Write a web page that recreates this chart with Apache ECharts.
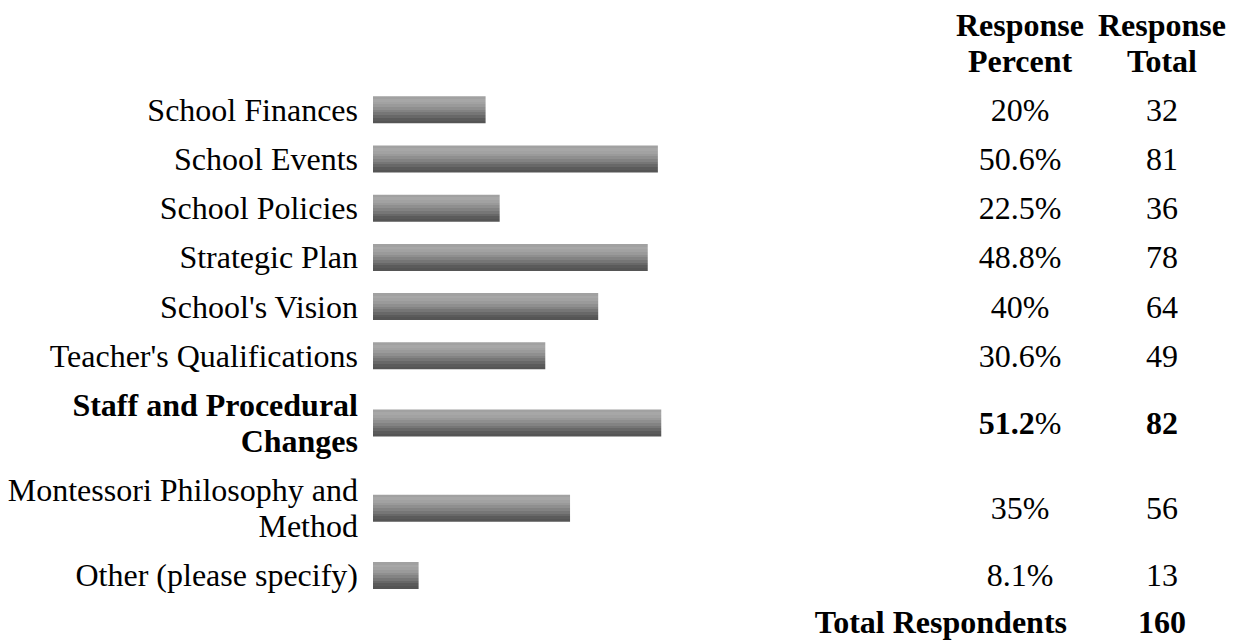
<!DOCTYPE html>
<html><head><meta charset="utf-8">
<script src="https://cdn.jsdelivr.net/npm/echarts@6/dist/echarts.min.js"></script>
<style>html,body{margin:0;padding:0;background:#fff;overflow:hidden}#chart{width:1240px;height:641px}</style>
</head><body><div id="chart"></div>
<script>
// ---- data ----
const categories = [
  'School Finances',
  'School Events',
  'School Policies',
  'Strategic Plan',
  "School's Vision",
  "Teacher's Qualifications",
  'Staff and Procedural\nChanges',
  'Montessori Philosophy and\nMethod',
  'Other (please specify)'
];
const responsePercent = [20, 50.6, 22.5, 48.8, 40, 30.6, 51.2, 35, 8.1];
const responseTotal = [32, 81, 36, 78, 64, 49, 82, 56, 13];
const boldRows = [false, false, false, false, false, false, true, false, false];
const headerPercent = 'Response\nPercent';
const headerTotal = 'Response\nTotal';
const totalLabel = 'Total Respondents';
const totalRespondents = 160;

// ---- layout / style ----
const FONT = '"Liberation Serif", "Times New Roman", serif';
const FS = 32, LINE_H = 36, ROW_PAD = 13.2, BAR_H = 27;
const CHART_H = 641;
const GRID_LEFT = 373, GRID_W = 563;
const COL_PCT = 1020, COL_TOT = 1162;

function lines(s) { return s.split('\n').length; }
function rowH(n) { return ROW_PAD + LINE_H * n; }

// row centres in layout units (1 unit = 1 px), derived from label line counts
const headerH = rowH(2);
let acc = headerH;
const rowCenters = categories.map(c => { const h = rowH(lines(c)); const m = acc + h / 2; acc += h; return m; });
const totalCenter = acc + rowH(1) / 2 - 3;

const bandColors = ['#a1a1a1','#a7a7a7','#a2a2a2','#9a9a9a','#8f8f8f','#838383','#767676','#686868','#5b5b5b','#555555'];
const stops = [];
bandColors.forEach((c, k) => {
  stops.push({ offset: k / bandColors.length, color: c });
  stops.push({ offset: (k + 1) / bandColors.length - 0.0001, color: c });
});

const chart = echarts.init(document.getElementById('chart'), null, { renderer: 'svg' });

const data = categories.map((c, i) => [responsePercent[i], rowCenters[i], i]);

function txt(text, x, y, align, bold, lh) {
  return { type: 'text', style: { text, x, y, align, verticalAlign: 'middle',
    fontSize: FS, fontFamily: FONT, fontWeight: bold ? 'bold' : 'normal', lineHeight: lh || LINE_H, fill: '#000' } };
}

chart.setOption({
  animation: false,
  backgroundColor: '#fff',
  grid: { left: GRID_LEFT, top: 0, width: GRID_W, height: CHART_H },
  xAxis: { type: 'value', min: 0, max: 100, show: false },
  yAxis: { type: 'value', min: 0, max: CHART_H, inverse: true, show: false },
  series: [{
    type: 'custom',
    data,
    renderItem(params, api) {
      const i = api.value(2);
      const s = api.coord([0, api.value(1)]);
      const e = api.coord([api.value(0), api.value(1)]);
      const h = api.size([0, BAR_H])[1];
      const bold = boldRows[i];
      return { type: 'group', children: [
        { type: 'rect', shape: { x: s[0], y: s[1] - h / 2, width: e[0] - s[0], height: h },
          style: { fill: new echarts.graphic.LinearGradient(0, 0, 0, 1, stops) } },
        txt(categories[i], s[0] - 15, s[1], 'right', bold),
        { type: 'text', style: { x: COL_PCT, y: s[1], align: 'center', verticalAlign: 'middle',
          text: '{n|' + responsePercent[i] + '}{p|%}',
          rich: { n: { fontSize: FS, fontFamily: FONT, fontWeight: bold ? 'bold' : 'normal', fill: '#000' },
                  p: { fontSize: FS, fontFamily: FONT, fontWeight: 'normal', fill: '#000' } } } },
        txt(String(responseTotal[i]), COL_TOT, s[1], 'center', bold)
      ]};
    }
  }, {
    type: 'custom',
    data: [[0, headerH / 2], [0, totalCenter]],
    renderItem(params, api) {
      const y = api.coord([0, api.value(1)])[1];
      if (params.dataIndex === 0) {
        return { type: 'group', children: [
          txt(headerPercent, COL_PCT, y, 'center', true),
          txt(headerTotal, COL_TOT, y, 'center', true)
        ]};
      }
      return { type: 'group', children: [
        txt(totalLabel, 1067, y, 'right', true, FS),
        txt(String(totalRespondents), COL_TOT, y, 'center', true, FS)
      ]};
    }
  }]
});
</script></body></html>
